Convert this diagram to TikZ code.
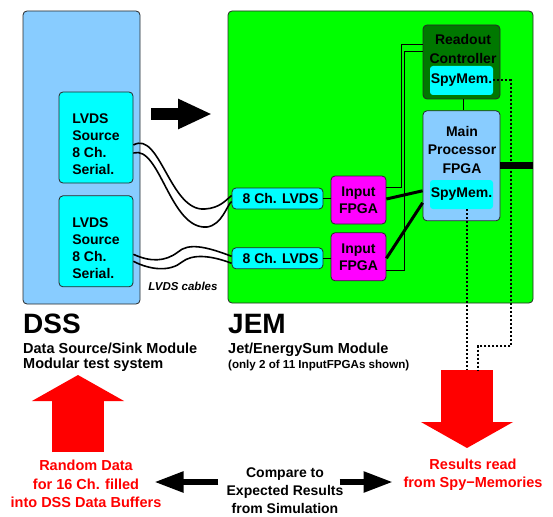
\documentclass[tikz,border=0pt]{standalone}
\usepackage{fontspec}
\setmainfont{Liberation Sans}
\usetikzlibrary{arrows.meta, positioning, calc}
\definecolor{dssblue}{RGB}{136,204,255}
\definecolor{srccyan}{RGB}{0,255,255}
\definecolor{jemgreen}{RGB}{0,255,0}
\definecolor{ctrlgreen}{RGB}{0,120,0}
\definecolor{fpgamag}{RGB}{255,0,255}
\definecolor{edgegray}{RGB}{40,40,40}
\tikzset{
  modbox/.style   = {draw=edgegray, line width=0.8pt, rounded corners=4pt,
                     inner sep=0pt},
  dssbox/.style   = {modbox, fill=dssblue, minimum width=117pt, minimum height=293pt},
  srcbox/.style   = {modbox, fill=srccyan, minimum width=74pt, minimum height=91pt},
  jembox/.style   = {modbox, fill=jemgreen, minimum width=305pt, minimum height=292pt},
  ctrlbox/.style  = {modbox, fill=ctrlgreen, minimum width=77pt, minimum height=74pt},
  mainbox/.style  = {modbox, fill=dssblue, minimum width=77pt, minimum height=110pt},
  spybox/.style   = {fill=srccyan, rounded corners=3pt, minimum width=63pt,
                     minimum height=29pt, inner sep=0pt, font=\boxfont},
  lvdsbox/.style  = {modbox, fill=srccyan, minimum width=91pt, minimum height=21pt,
                     font=\boxfont},
  fpgabox/.style  = {modbox, fill=fpgamag, minimum width=55pt, minimum height=48pt,
                     align=center, font=\boxfont\linespread{1}},
  boxtxt/.style   = {inner sep=0pt, font=\boxfont},
  title/.style    = {inner sep=0pt, anchor=base west, font=\fontsize{28}{30}\selectfont\bfseries},
  subtxt/.style   = {inner sep=0pt, anchor=base west, align=left,
                     font=\fontsize{14.5}{15}\selectfont\bfseries},
  redtxt/.style   = {inner sep=0pt, align=center, text=red,
                     font=\fontsize{14.5}{18.5}\selectfont\bfseries},
  wire/.style     = {-, line width=0.9pt, black},
  bus/.style      = {-, line width=3pt, black},
  cable/.style    = {-, line width=1.6pt, black},
  spyline/.style  = {-, line width=2pt, black, dash pattern=on 2pt off 2pt},
  bigflow/.style  = {red, line width=52pt, -{Triangle[length=26pt, width=91pt]}},
  flow/.style     = {black, line width=5.5pt, -{Triangle[length=29pt, width=20pt]}},
}
\newcommand{\boxfont}{\fontsize{14}{17}\selectfont\bfseries}

\begin{document}
\begin{tikzpicture}[x=1pt, y=-1pt]
  \useasboundingbox (0,0) rectangle (553,516);

  % DSS side
  \node[dssbox] (dss) at (81.5,157.5) {};
  \node[srcbox] (src1) at (96,137.5) {};
  \node[srcbox, below=12pt of src1] (src2) {};
  \node[boxtxt, align=left] at ([yshift=-7pt]src1.center) {LVDS\\Source\\8 Ch.\\Serial.};
  \node[boxtxt, align=left] at ([yshift=-7pt]src2.center) {LVDS\\Source\\8 Ch.\\Serial.};

  % JEM side
  \node[jembox] (jem) at (380.5,157) {};
  \node[ctrlbox] (ctrl) at (461.5,62) {};
  \node[boxtxt, align=center, font=\fontsize{14}{19}\selectfont\bfseries]
    at (463,48.5) {Readout\\Controller};
  \node[spybox] (spy1) at (461.5,80.5) {SpyMem.};
  \node[mainbox, below=11pt of ctrl] (main) {};
  \node[boxtxt, align=center, font=\fontsize{14}{18.5}\selectfont\bfseries]
    at (462,149.5) {Main\\Processor\\FPGA};
  \node[spybox] (spy2) at (461.5,194.5) {SpyMem.};

  \node[lvdsbox] (lvds1) at (277.5,198.5) {\hspace*{6pt}8 Ch. LVDS};
  \node[lvdsbox, below=38pt of lvds1] (lvds2) {\hspace*{6pt}8 Ch. LVDS};
  \node[fpgabox] (fpga1) at (358.5,200) {Input\\FPGA};
  \node[fpgabox, below=8pt of fpga1] (fpga2) {Input\\FPGA};

  % connections on the JEM
  \draw[wire] (lvds1.east) -- (lvds1.east -| fpga1.west);
  \draw[wire] (lvds2.east) -- (lvds2.east -| fpga2.west);
  \draw[bus] ($(fpga1.east)+(0,-1)$) -- ($(main.west)+(0,25)$);
  \draw[bus] ($(fpga2.east)+(0,1.5)$) -- ($(main.west)+(0,37)$);
  \draw[wire] ($(fpga1.north east)+(0,12)$) -- ++(15,0) |- ($(ctrl.west)+(0,-18)$);
  \draw[wire] ($(fpga2.south east)+(0,-11)$) -- ++(18,0) |- ($(ctrl.west)+(0,-11)$);
  \draw[wire] ([xshift=1.5pt]ctrl.south) -- ([xshift=1.5pt]main.north);
  \draw[line width=7pt] (main.east) -- (main.east -| jem.east);

  % LVDS cables
  \draw[cable] ($(src1.east)+(0,7.5)$) .. controls (160,130) and (170,212) .. (205,209)
    .. controls (220,208) and (226,200) .. ($(lvds1.west)+(0,-3)$);
  \draw[cable] ($(src1.east)+(0,15.5)$) .. controls (160,145) and (170,230) .. (207,227)
    .. controls (222,225) and (227,205) .. ($(lvds1.west)+(0,3)$);
  \draw[cable] ($(src2.east)+(0,13)$) .. controls (150,262) and (165,262) .. (178,252)
    .. controls (188,243) and (205,246) .. ($(lvds2.west)+(0,-2)$);
  \draw[cable] ($(src2.east)+(0,20)$) .. controls (150,270) and (170,272) .. (182,262)
    .. controls (192,254) and (210,255) .. ($(lvds2.west)+(0,5)$);
  \node[inner sep=0pt, font=\fontsize{11.5}{13}\selectfont\bfseries\itshape]
    (cbl) at (183,286) {LVDS cables};

  % module captions
  \node[title] (dsst) at (23,333) {DSS};
  \node[subtxt] (dsss) at (23,368) {Data Source/Sink Module\\Modular test system};
  \node[title] (jemt) at (228,333) {JEM};
  \node[subtxt] (jems) at (228,353) {Jet/EnergySum Module};
  \node[inner sep=0pt, anchor=base west, font=\fontsize{11.6}{13}\selectfont\bfseries]
    (jemn) at (228,368.5) {(only 2 of 11 InputFPGAs shown)};

  % test flow
  \node[redtxt] (rnd) at (86,484) {Random Data\\for 16 Ch. filled\\into DSS Data Buffers};
  \node[redtxt] (res) at (473,474.5) {Results read\\from Spy−Memories};
  \node[inner sep=0pt, align=center, font=\fontsize{14}{18}\selectfont\bfseries]
    (cmp) at (285,491) {Compare to\\Expected Results\\from Simulation};

  \coordinate (inA) at (78,452);
  \coordinate (inB) at (78,375);
  \coordinate (outA) at (467,370);
  \coordinate (outB) at (478,370);
  \coordinate (outC) at (467,448);
  \draw[bigflow] (inA) -- (inB);
  \draw[bigflow] (outA) -- (outC);
  \draw[spyline] (spy2.south -| outA) -- (outA);
  \draw[spyline] (spy1.east) -| ($(outB)+(33,-24)$) -| (outB);

  \coordinate (feed) at (151,114);
  \coordinate (feedend) at (212,114);
  \draw[black, line width=12pt, -{Triangle[length=34pt, width=28pt]}] (feed) -- (feedend);
  \draw[flow] ($(cmp.west)+(-8,-9)$) -- ($(rnd.east)+(-7,-2)$);
  \draw[flow] ($(cmp.east)+(-4,-9)$) -- ($(cmp.east)+(49,-9)$);
\end{tikzpicture}
\end{document}
